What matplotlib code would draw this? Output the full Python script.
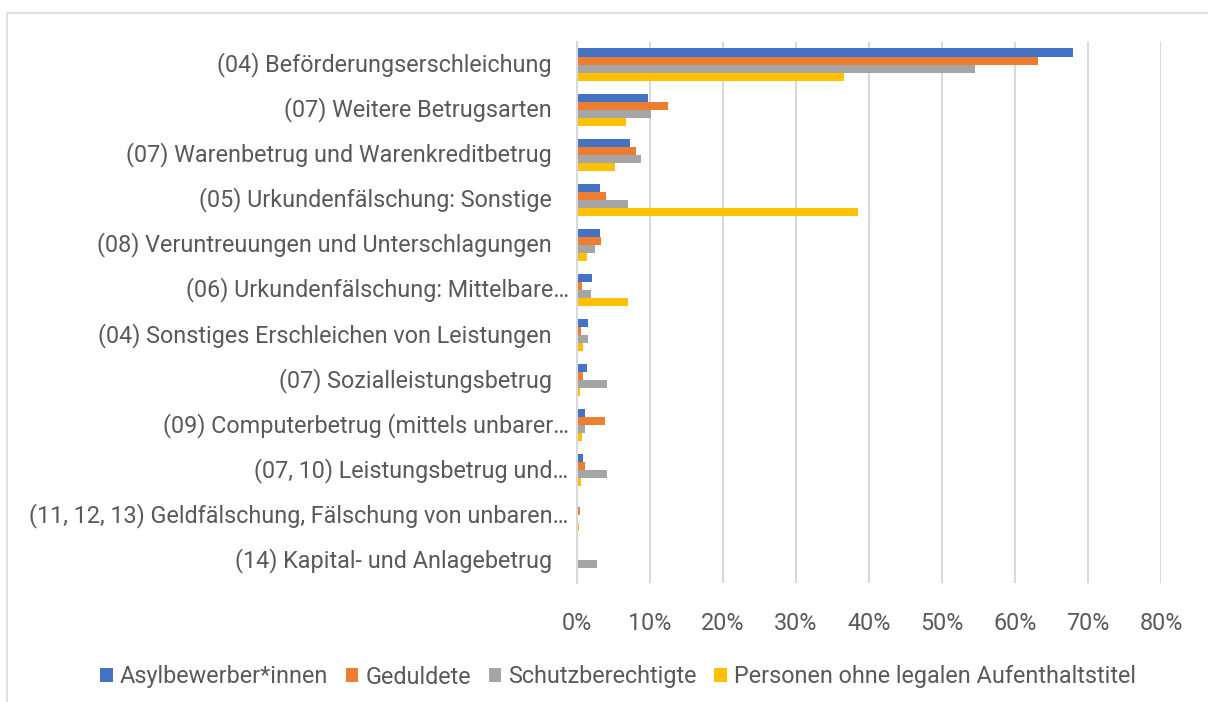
import numpy as np
import matplotlib.pyplot as plt
from matplotlib.patches import Rectangle

categories = [
    "(04) Beförderungserschleichung",
    "(07) Weitere Betrugsarten",
    "(07) Warenbetrug und Warenkreditbetrug",
    "(05) Urkundenfälschung: Sonstige",
    "(08) Veruntreuungen und Unterschlagungen",
    "(06) Urkundenfälschung: Mittelbare…",
    "(04) Sonstiges Erschleichen von Leistungen",
    "(07) Sozialleistungsbetrug",
    "(09) Computerbetrug (mittels unbarer…",
    "(07, 10) Leistungsbetrug und…",
    "(11, 12, 13) Geldfälschung, Fälschung von unbaren…",
    "(14) Kapital- und Anlagebetrug",
]
series_names = ["Asylbewerber*innen", "Geduldete", "Schutzberechtigte",
                "Personen ohne legalen Aufenthaltstitel"]
asyl = [67.9, 9.7, 7.3, 3.2, 3.2, 2.1, 1.5, 1.4, 1.1, 0.8, 0.13, 0.0]
geduldete = [63.1, 12.5, 8.1, 4.0, 3.3, 0.7, 0.6, 0.8, 3.9, 1.2, 0.45, 0.0]
schutz = [54.6, 10.2, 8.8, 7.0, 2.5, 1.9, 1.5, 4.2, 1.2, 4.2, 0.0, 2.8]
ohne = [36.6, 6.8, 5.3, 38.5, 1.4, 7.0, 0.8, 0.45, 0.7, 0.55, 0.27, 0.05]
x_ticks = [0, 10, 20, 30, 40, 50, 60, 70, 80]

colors = ["#4472C4", "#ED7D31", "#A5A5A5", "#FFC000"]
text_color = "#595959"
plt.rcParams['font.family'] = ['Roboto', 'DejaVu Sans']
fs = 16.8

fig = plt.figure(figsize=(12.08, 7.02), dpi=100)
W, H = 1208, 702
# Rahmen des Diagramms
fig.patches.append(Rectangle((7.5 / W, -0.1), 1.2, 1 - 12.7 / H + 0.1,
                             transform=fig.transFigure, fill=False,
                             edgecolor="#d9d9d9", linewidth=1.2))

ax = fig.add_axes([576.7 / W, 1 - 583 / H, (1161 - 576.7) / W, (583 - 42) / H])

n = len(categories)
y = np.arange(n)
bar_h = 0.178
for i, (vals, name) in enumerate(zip([asyl, geduldete, schutz, ohne], series_names)):
    ax.barh(y + (i - 1.5) * bar_h, vals, height=bar_h, color=colors[i],
            label=name, zorder=3)

ax.set_xlim(0, 80)
ax.set_ylim(n - 0.5, -0.5)
ax.set_xticks(x_ticks)
ax.set_xticklabels([f"{t}%" for t in x_ticks], fontsize=fs, color=text_color)
ax.tick_params(axis='x', length=0, pad=21)
ax.set_yticks([])
ax.grid(axis='x', color="#d9d9d9", linewidth=1.5, zorder=0)
for s in ["top", "right", "bottom"]:
    ax.spines[s].set_visible(False)
ax.spines["left"].set_color("#d9d9d9")
ax.spines["left"].set_linewidth(1.5)
ax.spines["left"].set_zorder(4)

# Kategorienamen (abgeschnittene Namen stehen näher an der Achse)
for yi, cat in zip(y, categories):
    pad = 8 if cat.endswith("…") else 25
    ax.annotate(cat, xy=(0, yi), xycoords=('axes fraction', 'data'),
                xytext=(-pad, 0), textcoords='offset pixels',
                ha='right', va='center', fontsize=fs, color=text_color)

fig.legend(loc='center', bbox_to_anchor=(618 / W, 1 - 677 / H), ncol=4,
           frameon=False, fontsize=fs, labelcolor=text_color,
           handlelength=0.55, handleheight=0.55, handletextpad=0.3,
           columnspacing=0.75)

plt.savefig("out.png", dpi=100)
